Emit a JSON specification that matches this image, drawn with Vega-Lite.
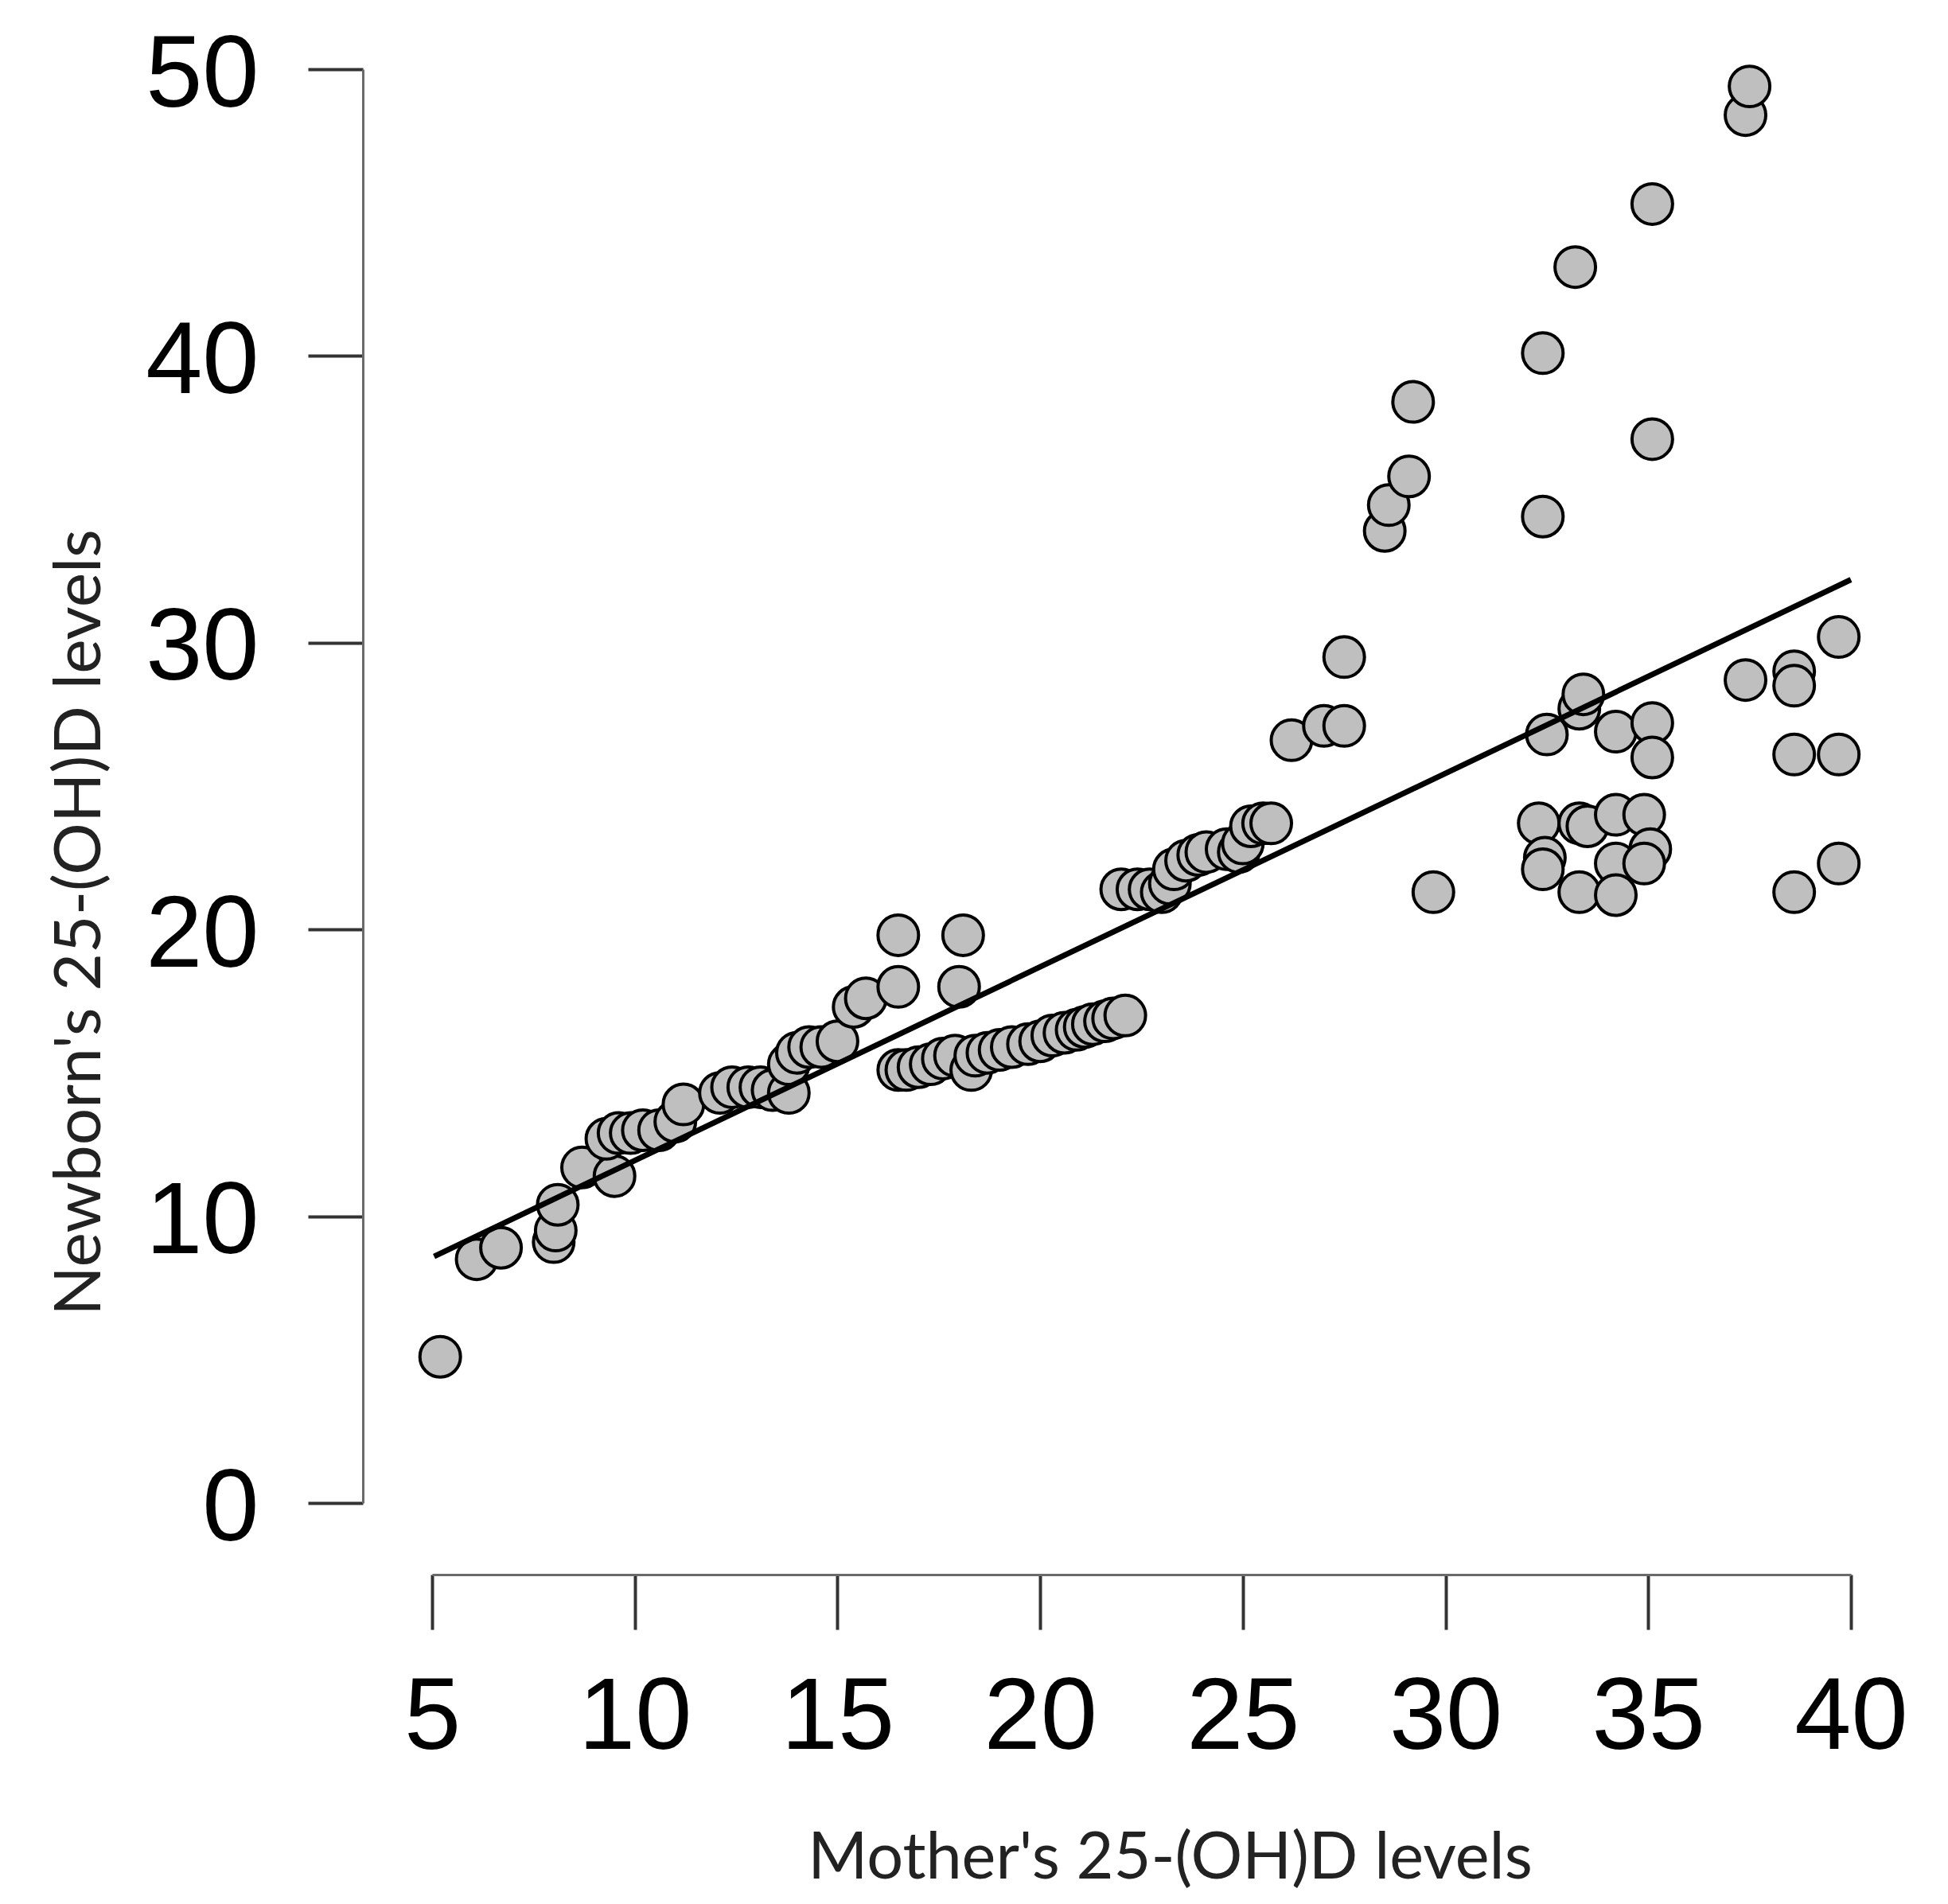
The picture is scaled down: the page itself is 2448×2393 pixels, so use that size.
{
  "$schema": "https://vega.github.io/schema/vega-lite/v6.json",
  "width": 1783,
  "height": 1802,
  "autosize": {"type": "none"},
  "padding": {"left": 543, "top": 87, "right": 122, "bottom": 504},
  "background": "white",
  "config": {"view": {"stroke": null}},
  "layer": [
    {
      "data": {"values": [
        {"mother": 5.2, "newborn": 5.1},
        {"mother": 6.1, "newborn": 8.5},
        {"mother": 6.7, "newborn": 8.9},
        {"mother": 8.0, "newborn": 9.1},
        {"mother": 8.05, "newborn": 9.5},
        {"mother": 8.1, "newborn": 10.4},
        {"mother": 8.7, "newborn": 11.7},
        {"mother": 9.5, "newborn": 11.4},
        {"mother": 9.3, "newborn": 12.7},
        {"mother": 9.6, "newborn": 12.9},
        {"mother": 9.9, "newborn": 12.9},
        {"mother": 10.2, "newborn": 13.0},
        {"mother": 10.6, "newborn": 13.0},
        {"mother": 11.0, "newborn": 13.3},
        {"mother": 11.2, "newborn": 13.9},
        {"mother": 12.1, "newborn": 14.3},
        {"mother": 12.4, "newborn": 14.5},
        {"mother": 12.8, "newborn": 14.5},
        {"mother": 13.1, "newborn": 14.5},
        {"mother": 13.4, "newborn": 14.4},
        {"mother": 13.8, "newborn": 14.3},
        {"mother": 13.8, "newborn": 15.3},
        {"mother": 14.0, "newborn": 15.7},
        {"mother": 14.3, "newborn": 15.9},
        {"mother": 14.6, "newborn": 15.9},
        {"mother": 15.0, "newborn": 16.1},
        {"mother": 15.4, "newborn": 17.3},
        {"mother": 15.7, "newborn": 17.6},
        {"mother": 16.5, "newborn": 18.0},
        {"mother": 16.5, "newborn": 19.8},
        {"mother": 18.1, "newborn": 19.8},
        {"mother": 18.0, "newborn": 18.0},
        {"mother": 16.5, "newborn": 15.1},
        {"mother": 16.7, "newborn": 15.1},
        {"mother": 17.0, "newborn": 15.2},
        {"mother": 17.3, "newborn": 15.3},
        {"mother": 17.6, "newborn": 15.5},
        {"mother": 17.9, "newborn": 15.6},
        {"mother": 18.3, "newborn": 15.1},
        {"mother": 18.4, "newborn": 15.6},
        {"mother": 18.7, "newborn": 15.7},
        {"mother": 19.0, "newborn": 15.8},
        {"mother": 19.3, "newborn": 15.9},
        {"mother": 19.7, "newborn": 16.0},
        {"mother": 20.0, "newborn": 16.1},
        {"mother": 20.3, "newborn": 16.3},
        {"mother": 20.6, "newborn": 16.4},
        {"mother": 20.9, "newborn": 16.5},
        {"mother": 21.1, "newborn": 16.6},
        {"mother": 21.3, "newborn": 16.7},
        {"mother": 21.6, "newborn": 16.8},
        {"mother": 21.8, "newborn": 16.9},
        {"mother": 22.1, "newborn": 17.0},
        {"mother": 22.0, "newborn": 21.4},
        {"mother": 22.4, "newborn": 21.4},
        {"mother": 22.7, "newborn": 21.4},
        {"mother": 23.0, "newborn": 21.3},
        {"mother": 23.2, "newborn": 21.6},
        {"mother": 23.3, "newborn": 22.1},
        {"mother": 23.6, "newborn": 22.4},
        {"mother": 23.9, "newborn": 22.6},
        {"mother": 24.1, "newborn": 22.7},
        {"mother": 24.6, "newborn": 22.8},
        {"mother": 24.9, "newborn": 22.7},
        {"mother": 25.0, "newborn": 23.0},
        {"mother": 25.2, "newborn": 23.6},
        {"mother": 25.5, "newborn": 23.7},
        {"mother": 25.7, "newborn": 23.7},
        {"mother": 26.2, "newborn": 26.6},
        {"mother": 27.0, "newborn": 27.1},
        {"mother": 27.5, "newborn": 27.1},
        {"mother": 27.5, "newborn": 29.5},
        {"mother": 28.5, "newborn": 33.9},
        {"mother": 28.6, "newborn": 34.8},
        {"mother": 29.1, "newborn": 35.8},
        {"mother": 29.2, "newborn": 38.4},
        {"mother": 29.7, "newborn": 21.3},
        {"mother": 32.4, "newborn": 40.1},
        {"mother": 32.4, "newborn": 34.4},
        {"mother": 33.2, "newborn": 43.1},
        {"mother": 35.1, "newborn": 45.3},
        {"mother": 35.1, "newborn": 37.1},
        {"mother": 37.4, "newborn": 48.4},
        {"mother": 37.5, "newborn": 49.4},
        {"mother": 32.5, "newborn": 26.8},
        {"mother": 33.3, "newborn": 27.7},
        {"mother": 33.4, "newborn": 28.2},
        {"mother": 34.2, "newborn": 26.9},
        {"mother": 35.1, "newborn": 27.2},
        {"mother": 35.1, "newborn": 26.0},
        {"mother": 32.3, "newborn": 23.7},
        {"mother": 32.45, "newborn": 22.5},
        {"mother": 32.4, "newborn": 22.1},
        {"mother": 33.3, "newborn": 23.7},
        {"mother": 33.5, "newborn": 23.6},
        {"mother": 33.3, "newborn": 21.3},
        {"mother": 34.2, "newborn": 24.0},
        {"mother": 34.2, "newborn": 22.3},
        {"mother": 34.2, "newborn": 21.2},
        {"mother": 34.9, "newborn": 24.0},
        {"mother": 35.05, "newborn": 22.8},
        {"mother": 34.9, "newborn": 22.3},
        {"mother": 37.4, "newborn": 28.7},
        {"mother": 38.6, "newborn": 29.0},
        {"mother": 38.6, "newborn": 28.5},
        {"mother": 38.6, "newborn": 26.1},
        {"mother": 38.6, "newborn": 21.3},
        {"mother": 39.7, "newborn": 30.2},
        {"mother": 39.7, "newborn": 26.1},
        {"mother": 39.7, "newborn": 22.3}
      ]},
      "mark": {"type": "circle", "size": 2600, "fill": "#bfbfbf", "stroke": "black", "strokeWidth": 4, "opacity": 1, "clip": false},
      "encoding": {
        "x": {
          "field": "mother", "type": "quantitative",
          "scale": {"domain": [5, 40], "nice": false, "zero": false},
          "axis": {
            "values": [5, 10, 15, 20, 25, 30, 35, 40],
            "offset": 90, "grid": false,
            "domainColor": "#6a6a6a", "domainWidth": 3,
            "tickColor": "#333333", "tickWidth": 4, "tickSize": 69,
            "labelFont": "Liberation Sans", "labelFontSize": 128, "labelColor": "black",
            "labelPadding": 48, "labelFlush": false, "labelOverlap": false,
            "title": "Mother's 25-(OH)D levels",
            "titleFont": "Lato", "titleFontSize": 81, "titleFontWeight": "normal", "titleColor": "#222222",
            "titleX": 927, "titleY": 381, "titleBaseline": "alphabetic", "titleAlign": "center"
          }
        },
        "y": {
          "field": "newborn", "type": "quantitative",
          "scale": {"domain": [0, 50], "nice": false, "zero": false},
          "axis": {
            "values": [0, 10, 20, 30, 40, 50],
            "offset": 87, "grid": false,
            "domainColor": "#6a6a6a", "domainWidth": 3,
            "tickColor": "#333333", "tickWidth": 4, "tickSize": 69,
            "labelFont": "Liberation Sans", "labelFontSize": 128, "labelColor": "black",
            "labelPadding": 62, "labelOffset": 8, "labelFlush": false, "labelOverlap": false,
            "title": "Newborn's 25-(OH)D levels",
            "titleFont": "Lato", "titleFontSize": 82, "titleFontWeight": "normal", "titleColor": "#222222",
            "titleAngle": -90, "titleX": -331, "titleY": 1072, "titleBaseline": "alphabetic", "titleAlign": "center"
          }
        }
      }
    },
    {
      "data": {"values": [
        {"mother": 5.05, "newborn": 8.6},
        {"mother": 40.0, "newborn": 32.2}
      ]},
      "mark": {"type": "line", "color": "black", "strokeWidth": 7, "clip": false},
      "encoding": {
        "x": {"field": "mother", "type": "quantitative"},
        "y": {"field": "newborn", "type": "quantitative"}
      }
    }
  ]
}
